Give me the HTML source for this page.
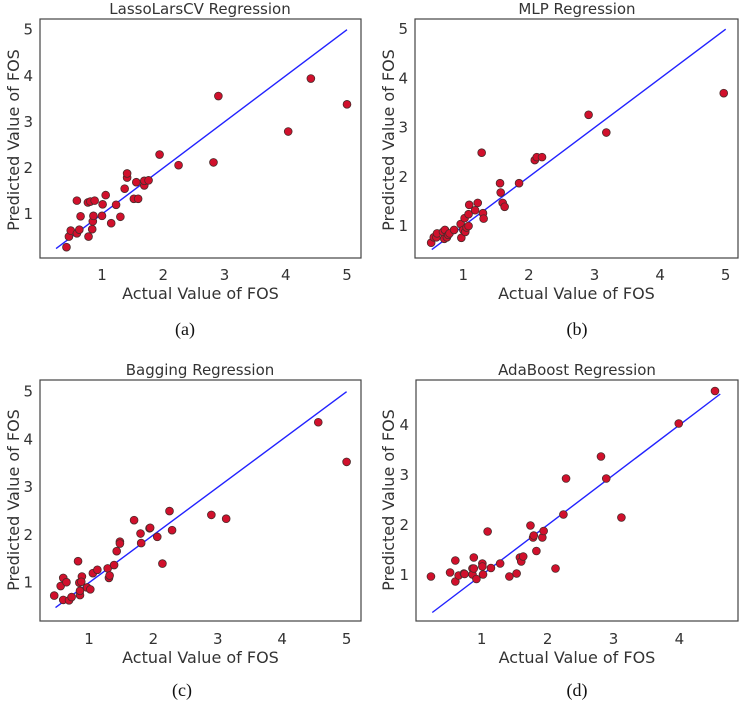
<!DOCTYPE html>
<html><head><meta charset="utf-8"><style>
body{margin:0;background:#fff;}
svg{display:block;font-family:"DejaVu Sans","Liberation Sans",sans-serif;}
</style></head><body>
<svg id="fig" width="740" height="704" viewBox="0 0 740 704"></svg>
<script>
const titles=["LassoLarsCV Regression","MLP Regression","Bagging Regression","AdaBoost Regression"];
const captions=["(a)","(b)","(c)","(d)"];
const xTicksA=[1,2,3,4,5],yTicksA=[1,2,3,4,5];
const xTicksD=[1,2,3,4],yTicksD=[1,2,3,4];
const lineA=[0.25,5],lineB=[0.52,5],lineC=[0.48,5],lineD=[0.25,4.62];
const aX=[0.42,0.46,0.49,0.59,0.63,0.65,0.59,0.78,0.77,0.81,0.88,0.84,0.85,0.86,1.0,1.01,1.06,1.15,1.23,1.30,1.37,1.41,1.41,1.52,1.59,1.56,1.69,1.69,1.76,1.94,2.25,2.82,2.90,4.04,4.41,5.0];
const aY=[0.28,0.51,0.64,0.58,0.66,0.95,1.29,0.51,1.25,1.27,1.29,0.67,0.84,0.96,0.96,1.21,1.41,0.80,1.20,0.94,1.55,1.79,1.88,1.33,1.33,1.69,1.62,1.72,1.73,2.29,2.06,2.12,3.56,2.79,3.94,3.38];
const bX=[0.51,0.55,0.59,0.60,0.69,0.72,0.71,0.75,0.77,0.79,0.86,0.96,0.97,1.0,1.02,1.03,1.05,1.08,1.08,1.09,1.18,1.22,1.30,1.31,1.28,1.56,1.57,1.60,1.63,1.85,2.09,2.12,2.20,2.91,3.18,4.97];
const bY=[0.66,0.77,0.77,0.85,0.88,0.92,0.74,0.77,0.82,0.85,0.92,1.04,0.76,0.92,1.16,0.88,0.97,1.24,1.0,1.43,1.32,1.47,1.26,1.15,2.49,1.87,1.68,1.47,1.39,1.87,2.34,2.40,2.40,3.26,2.90,3.70];
const cX=[0.46,0.56,0.60,0.60,0.65,0.69,0.73,0.83,0.85,0.86,0.86,0.89,0.88,0.97,1.02,1.06,1.13,1.29,1.31,1.32,1.39,1.43,1.48,1.48,1.70,1.80,1.81,1.94,1.95,2.06,2.14,2.25,2.29,2.90,3.13,4.56,5.0];
const cY=[0.73,0.93,1.10,0.64,1.01,0.63,0.70,1.45,1.0,0.74,0.83,1.13,1.02,0.90,0.86,1.20,1.27,1.30,1.10,1.15,1.37,1.66,1.86,1.82,2.31,2.03,1.83,2.14,2.15,1.96,1.40,2.50,2.10,2.42,2.34,4.36,3.53];
const dX=[0.23,0.52,0.60,0.60,0.65,0.73,0.74,0.86,0.86,0.88,0.88,0.92,1.01,1.01,1.02,1.09,1.14,1.28,1.42,1.53,1.58,1.60,1.63,1.74,1.78,1.79,1.83,1.92,1.94,2.12,2.24,2.28,2.81,2.89,3.12,3.99,4.54];
const dY=[0.97,1.05,0.87,1.29,0.99,1.03,1.02,1.13,1.01,1.35,1.13,0.92,1.23,1.17,1.01,1.87,1.14,1.23,0.97,1.03,1.35,1.27,1.37,1.99,1.75,1.79,1.48,1.75,1.88,1.13,2.21,2.93,3.37,2.93,2.15,4.03,4.68];

const NS="http://www.w3.org/2000/svg";
const svg=document.getElementById('fig');
function mk(tag,attrs,parent){const e=document.createElementNS(NS,tag);for(const k in attrs)e.setAttribute(k,attrs[k]);(parent||svg).appendChild(e);return e;}

const panels=[
 {box:[40,19,361,258],x0:102,xs:61.25,y0:214,ys:46.08,xt:xTicksA,yt:yTicksA,line:lineA,X:aX,Y:aY,tx:200,ty:14,cap:[185,335],xl:299,tl:280,yl:14,yc:140},
 {box:[415,19,738,258],x0:463.3,xs:65.6,y0:226,ys:49.2,xt:xTicksA,yt:yTicksA,line:lineB,X:bX,Y:bY,tx:577,ty:14,cap:[577,335],xl:299,tl:280,yl:389,yc:140},
 {box:[40,380,361,621],x0:89,xs:64.4,y0:582.7,ys:47.75,xt:xTicksA,yt:yTicksA,line:lineC,X:cX,Y:cY,tx:200,ty:375,cap:[182,696],xl:663,tl:644,yl:14,yc:500},
 {box:[416,380,738,621],x0:481.7,xs:65.9,y0:575,ys:50,xt:xTicksD,yt:yTicksD,line:lineD,X:dX,Y:dY,tx:577,ty:375,cap:[577,696],xl:663,tl:644,yl:389,yc:500}
];
panels.forEach((p,i)=>{
 const g=mk('g',{});
 
 
 const xs=v=>p.x0+(v-1)*p.xs, ys=v=>p.y0-(v-1)*p.ys;
 const [l,t,r,b]=p.box;
 const fr=mk('rect',{x:l,y:t,width:r-l,height:b-t,fill:'none',stroke:'#444','stroke-width':1.2},g);
 
 const ti=mk('text',{x:p.tx,y:p.ty,'text-anchor':'middle','font-size':15,fill:'#333'},g);ti.textContent=titles[i];
 
 p.xt.forEach(v=>{const e=mk('text',{x:xs(v),y:p.tl,'text-anchor':'middle','font-size':15,fill:'#333'},g);e.textContent=v;
  });
 p.yt.forEach(v=>{const e=mk('text',{x:l-7,y:ys(v)+5,'text-anchor':'end','font-size':15,fill:'#333'},g);e.textContent=v;
  });
 const xl=mk('text',{x:(l+r)/2,y:p.xl,'text-anchor':'middle','font-size':16,fill:'#333'},g);xl.textContent='Actual Value of FOS';
 
 const yl=mk('text',{x:0,y:0,transform:`translate(${p.yl+5},${p.yc}) rotate(-90)`,'text-anchor':'middle','font-size':16,fill:'#333'},g);yl.textContent='Predicted Value of FOS';
 
 const ln=mk('line',{x1:xs(p.line[0]),y1:ys(p.line[0]),x2:xs(p.line[1]),y2:ys(p.line[1]),stroke:'#2222ff','stroke-width':1.4},g);
 
 p.X.forEach((v,k)=>{const c=mk('circle',{cx:xs(v),cy:ys(p.Y[k]),r:3.9,fill:'#d1102c',stroke:'#4a2a2a','stroke-width':0.8},g);
  });
 const cp=mk('text',{x:p.cap[0],y:p.cap[1],'text-anchor':'middle','font-size':18,fill:'#111','font-family':'"Liberation Serif",serif'},g);cp.textContent=captions[i];
 
});
</script>
</body></html>
